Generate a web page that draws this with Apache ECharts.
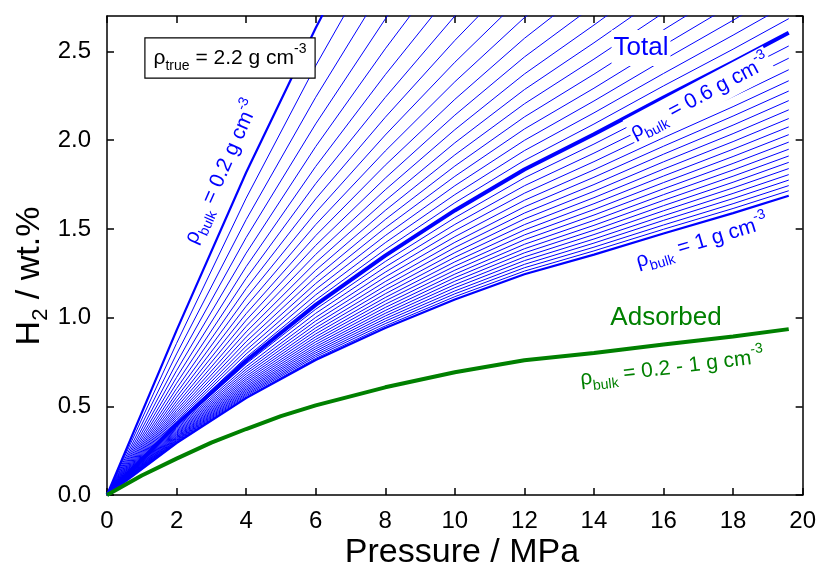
<!DOCTYPE html>
<html><head><meta charset="utf-8">
<script src="https://cdn.jsdelivr.net/npm/echarts@6/dist/echarts.min.js"></script>
<style>html,body{margin:0;padding:0;background:#fff}#c{width:819px;height:572px}</style>
</head><body><div id="c"></div><script>
// ---- data ----
const pressures = [0, 2, 4, 6, 8, 10, 12, 14, 16, 18, 19.6];
const bulkDensities = [0.20,0.22,0.24,0.26,0.28,0.30,0.32,0.34,0.36,0.38,0.40,0.42,0.44,0.46,0.48,0.50,0.52,0.54,0.56,0.58,0.60,0.62,0.64,0.66,0.68,0.70,0.72,0.74,0.76,0.78,0.80,0.82,0.84,0.86,0.88,0.90,0.92,0.94,0.96,0.98,1.00];
const totalH2 = [
  [0,0.928,1.818,2.632,3.389],
  [0,0.855,1.673,2.420,3.111],
  [0,0.795,1.552,2.242,2.879],
  [0,0.744,1.451,2.092,2.683,3.243],
  [0,0.701,1.363,1.964,2.515,3.036],
  [0,0.663,1.287,1.852,2.369,2.857],
  [0,0.630,1.221,1.755,2.241,2.700,3.129],
  [0,0.600,1.163,1.669,2.129,2.562,2.966],
  [0,0.574,1.111,1.592,2.029,2.439,2.821],
  [0,0.551,1.064,1.524,1.939,2.329,2.691,3.014],
  [0,0.530,1.022,1.462,1.859,2.230,2.574,2.880],
  [0,0.511,0.985,1.407,1.786,2.141,2.469,2.759],
  [0,0.494,0.950,1.356,1.720,2.059,2.373,2.649,2.935],
  [0,0.478,0.919,1.310,1.659,1.985,2.285,2.549,2.822],
  [0,0.464,0.890,1.267,1.604,1.917,2.205,2.457,2.718],
  [0,0.451,0.864,1.228,1.553,1.854,2.131,2.372,2.622,2.865],
  [0,0.439,0.839,1.192,1.506,1.796,2.063,2.293,2.534,2.767],
  [0,0.427,0.816,1.159,1.462,1.743,1.999,2.221,2.452,2.676,2.861],
  [0,0.417,0.795,1.128,1.422,1.693,1.941,2.154,2.376,2.592,2.769],
  [0,0.407,0.776,1.099,1.384,1.647,1.886,2.091,2.306,2.513,2.685],
  [0,0.398,0.757,1.072,1.349,1.604,1.835,2.033,2.240,2.440,2.605],
  [0,0.389,0.740,1.047,1.316,1.563,1.788,1.978,2.178,2.371,2.531],
  [0,0.381,0.724,1.024,1.285,1.525,1.743,1.927,2.120,2.307,2.462],
  [0,0.374,0.709,1.001,1.256,1.490,1.701,1.879,2.066,2.246,2.397],
  [0,0.367,0.695,0.981,1.229,1.456,1.661,1.833,2.014,2.189,2.335],
  [0,0.360,0.682,0.961,1.203,1.424,1.624,1.791,1.966,2.136,2.277],
  [0,0.354,0.669,0.942,1.179,1.395,1.589,1.750,1.921,2.085,2.223],
  [0,0.348,0.657,0.925,1.156,1.366,1.556,1.712,1.878,2.037,2.171],
  [0,0.342,0.646,0.908,1.134,1.340,1.524,1.676,1.837,1.992,2.122],
  [0,0.337,0.635,0.892,1.113,1.314,1.494,1.642,1.798,1.949,2.075],
  [0,0.331,0.625,0.877,1.094,1.290,1.466,1.609,1.761,1.908,2.031],
  [0,0.327,0.615,0.863,1.075,1.267,1.439,1.578,1.726,1.869,1.989],
  [0,0.322,0.606,0.849,1.057,1.245,1.413,1.548,1.693,1.832,1.949],
  [0,0.318,0.597,0.836,1.040,1.225,1.388,1.520,1.661,1.797,1.911],
  [0,0.313,0.589,0.824,1.024,1.205,1.365,1.493,1.631,1.763,1.875],
  [0,0.309,0.581,0.812,1.009,1.186,1.342,1.468,1.602,1.731,1.840],
  [0,0.306,0.573,0.801,0.994,1.168,1.321,1.443,1.574,1.700,1.806],
  [0,0.302,0.566,0.790,0.980,1.150,1.300,1.420,1.548,1.671,1.775],
  [0,0.298,0.559,0.780,0.966,1.134,1.281,1.397,1.522,1.642,1.744],
  [0,0.295,0.552,0.770,0.953,1.118,1.262,1.376,1.498,1.615,1.715],
  [0,0.292,0.546,0.761,0.941,1.102,1.244,1.355,1.474,1.589,1.687]
];
const adsPressures = [0, 1, 2, 3, 4, 5, 6, 8, 10, 12, 14, 16, 18, 19.6];
const adsorbedH2 = [0, 0.11, 0.205, 0.295, 0.372, 0.445, 0.505, 0.607, 0.692, 0.76, 0.80, 0.848, 0.893, 0.935];
const xTickLabels = ['0','2','4','6','8','10','12','14','16','18','20'];
const yTickLabels = ['0.0','0.5','1.0','1.5','2.0','2.5'];

// ---- chart ----
const FONT = '"Liberation Sans", Arial, Helvetica, sans-serif';
const BLUE = '#0000ff', GREEN = '#008000';
const chart = echarts.init(document.getElementById('c'), null, {renderer: 'canvas'});

const series = bulkDensities.map((rho, i) => ({
  type: 'line',
  name: 'rho ' + rho,
  data: totalH2[i].map((v, j) => [pressures[j], v]),
  symbol: 'none',
  clip: true,
  silent: true,
  z: (rho === 0.6) ? 4 : 3,
  lineStyle: {color: BLUE, width: rho === 0.6 ? 4 : ((rho === 0.2 || rho === 1) ? 2.2 : 1)}
}));
series.push({
  type: 'line', name: 'Adsorbed',
  data: adsorbedH2.map((v, j) => [adsPressures[j], v]),
  symbol: 'none', clip: true, silent: true, z: 5,
  lineStyle: {color: GREEN, width: 4}
});

const axisCommon = {
  type: 'value',
  axisLine: {show: true, onZero: false, lineStyle: {color: '#000', width: 1.5}},
  axisTick: {show: true, inside: true, length: 7, lineStyle: {color: '#000', width: 1.5}},
  splitLine: {show: false}
};
const rich = (size, color) => {
  const sub = Math.round(size * 0.66);
  return {
    a: {fontSize: size, fontFamily: FONT, fill: color, lineHeight: size + 10},
    s: {fontSize: sub, fontFamily: FONT, fill: color, verticalAlign: 'bottom', lineHeight: sub},
    p: {fontSize: sub, fontFamily: FONT, fill: color, verticalAlign: 'top', lineHeight: sub}
  };
};
function label(x, y, deg, text, size, color, bg) {
  return {
    type: 'text', x: x, y: y, rotation: deg * Math.PI / 180, z: 100, silent: true,
    style: {text: text, rich: rich(size, color), fill: color, align: 'center', verticalAlign: 'middle',
      backgroundColor: bg ? '#fff' : null, padding: bg ? [0, 2] : 0}
  };
}

chart.setOption({
  animation: false,
  backgroundColor: '#fff',
  grid: {left: 107, right: 11, top: 16, bottom: 77, containLabel: false},
  xAxis: [
    Object.assign({}, axisCommon, {position: 'bottom', min: 0, max: 20, interval: 2,
      axisLabel: {fontSize: 24, color: '#000', fontFamily: FONT, margin: 14,
        formatter: (v) => xTickLabels[Math.round(v / 2)]}}),
    Object.assign({}, axisCommon, {position: 'top', min: 0, max: 20, interval: 2, axisLabel: {show: false}})
  ],
  yAxis: [
    Object.assign({}, axisCommon, {position: 'left', min: 0, max: 2.7, interval: 0.5,
      axisLabel: {fontSize: 24, color: '#000', fontFamily: FONT, margin: 16, showMaxLabel: false,
        formatter: (v) => { const k = Math.round(v / 0.5); return Math.abs(v - k * 0.5) < 1e-6 ? (yTickLabels[k] || '') : ''; }}}),
    Object.assign({}, axisCommon, {position: 'right', min: 0, max: 2.7, interval: 0.5, axisLabel: {show: false}})
  ],
  series: series,
  graphic: [
    {type: 'text', x: 462, y: 553, z: 100, silent: true,
      style: {text: 'Pressure / MPa', font: '34px ' + FONT, fill: '#000', align: 'center', verticalAlign: 'middle'}},
    {type: 'text', x: 30, y: 276, rotation: Math.PI / 2, z: 100, silent: true,
      style: {text: '{a|H}{s|2}{a| / wt.%}', rich: rich(34, '#000'), align: 'center', verticalAlign: 'middle'}},
    {type: 'text', x: 230, y: 58, z: 100, silent: true,
      style: {text: '{a|ρ}{s|true}{a| = 2.2 g cm}{p|-3}', rich: rich(21, '#000'), align: 'center', verticalAlign: 'middle',
        backgroundColor: '#fff', borderColor: '#000', borderWidth: 1.2, padding: [4, 8, 4, 8]}},
    label(641, 48, 0, '{a|Total}', 26, BLUE, true),
    label(700, 97, 28, '{a|ρ}{s|bulk}{a| = 0.6 g cm}{p|-3}', 21, BLUE, true),
    label(702, 242, 17, '{a|ρ}{s|bulk}{a| = 1 g cm}{p|-3}', 21, BLUE, false),
    label(222, 172, 66, '{a|ρ}{s|bulk}{a| = 0.2 g cm}{p|-3}', 21, BLUE, false),
    label(666, 318, 0, '{a|Adsorbed}', 26, GREEN, false),
    label(672, 368, 7, '{a|ρ}{s|bulk}{a| = 0.2 - 1 g cm}{p|-3}', 21, GREEN, false)
  ]
});
</script></body></html>
